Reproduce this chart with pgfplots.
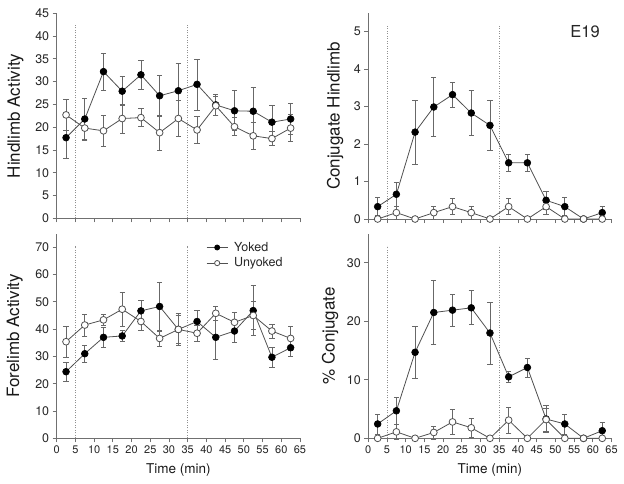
\documentclass[border=0pt]{standalone}
\usepackage{pgfplots}
\pgfplotsset{compat=1.18}
\usepackage{pgfplotstable}
\usepackage{fontspec}
\setmainfont{TeX Gyre Heros}
\definecolor{axgray}{HTML}{707070}
\definecolor{lngray}{HTML}{505050}
\definecolor{errgray}{HTML}{686868}
\definecolor{dotgray}{HTML}{909090}

\pgfplotstableread{
x y e u ue
2.5 17.7 4.6 22.7 3.5
7.5 21.8 4.6 19.8 2.4
12.5 32.2 4.1 19.2 3.3
17.5 27.9 3.2 21.9 3.2
22.5 31.5 3.1 22.1 2.0
27.5 26.9 4.5 18.8 3.9
32.5 28.0 6.0 21.9 4.0
37.5 29.4 5.6 19.4 3.0
42.5 24.9 2.3 24.7 2.0
47.5 23.6 4.4 20.1 2.0
52.5 23.5 5.2 18.1 3.0
57.5 21.1 3.7 17.5 1.5
62.5 21.8 3.4 19.8 3.0
}\hind

\pgfplotstableread{
x y e u ue
2.5 0.33 0.24 0 0
7.5 0.66 0.33 0.17 0.17
12.5 2.32 0.85 0 0
17.5 2.99 0.78 0.17 0.17
22.5 3.32 0.34 0.33 0.21
27.5 2.83 0.60 0.17 0.17
32.5 2.50 0.67 0 0
37.5 1.50 0.23 0.33 0.21
42.5 1.50 0.23 0 0
47.5 0.50 0.23 0.33 0.21
52.5 0.33 0.24 0 0
57.5 0 0 0 0
62.5 0.17 0.17 0 0
}\conjhind

\pgfplotstableread{
x y e u ue
2.5 24.4 3.6 35.4 5.6
7.5 31.0 3.0 41.5 4.0
12.5 37.0 3.6 43.4 2.0
17.5 37.5 2.0 47.3 6.3
22.5 46.7 3.9 42.8 3.3
27.5 48.3 9.0 36.6 3.0
32.5 39.9 5.0 39.9 5.8
37.5 42.8 3.9 38.5 3.0
42.5 37.0 8.2 45.8 2.4
47.5 39.3 4.0 42.5 3.5
52.5 46.8 9.2 45.0 5.0
57.5 29.7 3.8 39.3 2.5
62.5 33.2 3.3 36.6 4.3
}\fore

\pgfplotstableread{
x y e u ue
2.5 2.45 1.7 0 0
7.5 4.7 2.3 1.1 1.3
12.5 14.7 4.4 0 0
17.5 21.5 5.5 1.0 1.1
22.5 21.9 2.7 2.8 2.2
27.5 22.3 2.9 1.8 1.6
32.5 18.0 5.3 0 0
37.5 10.5 1.0 3.1 2.2
42.5 12.1 1.6 0 0
47.5 3.3 2.3 3.2 2.0
52.5 2.45 1.7 0 0
57.5 0 0 0 0
62.5 1.3 1.4 0 0
}\pconj

\pgfplotsset{
 panel/.style={
  scale only axis, width=243.3pt, height=205pt,
  xmin=0, xmax=65, xtick={0,5,...,65},
  axis x line*=bottom, axis y line*=left,
  axis line style={axgray, line width=0.8pt, -},
  major tick style={axgray, line width=0.8pt},
  tick align=outside, major tick length=4pt,
  /pgf/number format/assume math mode=true,
  xticklabel style={font=\fontsize{11}{12}\selectfont, text=black!85},
  yticklabel style={font=\fontsize{12.5}{14}\selectfont, text=black!85},
  ylabel style={font=\fontsize{17}{19}\selectfont, anchor=center, text=black!90},
  xlabel style={font=\fontsize{13.5}{15}\selectfont, anchor=center, text=black!90, at={(axis description cs:0.5,-0.155)}},
  clip=false,
 },
 yok/.style={lngray, line width=0.8pt, mark=*, mark size=3.4pt,
   mark options={fill=black, draw=black, line width=0.6pt},
   error bars/.cd, y dir=both, y explicit,
   error bar style={errgray, line width=0.7pt},
   error mark options={rotate=90, mark size=2.6pt, errgray, line width=0.7pt}},
 unyok/.style={lngray, line width=0.8pt, mark=*, mark size=3.4pt,
   mark options={fill=white, draw=lngray, line width=0.8pt},
   error bars/.cd, y dir=both, y explicit,
   error bar style={errgray, line width=0.7pt},
   error mark options={rotate=90, mark size=2.6pt, errgray, line width=0.7pt}},
 vline/.style={dotgray, dash pattern=on 0.9pt off 1.6pt, line width=0.8pt, forget plot},
}

\begin{document}
\begin{tikzpicture}
\path[use as bounding box] (0,0) rectangle (624pt,483pt);

% Top left
\begin{axis}[panel, at={(56.7pt,264.7pt)}, anchor=south west,
  ymin=0, ymax=45, ytick={0,5,...,45}, xticklabels={},
  ylabel={Hindlimb Activity},
  ylabel style={at={(axis description cs:-0.169,0.5)}}]
\addplot[vline] coordinates {(5,0) (5,42.4)};
\addplot[vline] coordinates {(35,0) (35,42.4)};
\addplot[yok] table[x=x, y=y, y error=e] {\hind};
\addplot[unyok] table[x=x, y=u, y error=ue] {\hind};
\end{axis}

% Top right
\begin{axis}[panel, at={(368.3pt,264pt)}, anchor=south west, height=206pt,
  ymin=0, ymax=5.5, ytick={0,1,...,5}, xticklabels={},
  ylabel={Conjugate Hindlimb},
  ylabel style={at={(axis description cs:-0.136,0.5)}}]
\addplot[vline] coordinates {(5,0) (5,5.16)};
\addplot[vline] coordinates {(35,0) (35,5.16)};
\addplot[yok] table[x=x, y=y, y error=e] {\conjhind};
\addplot[unyok] table[x=x, y=u, y error=ue] {\conjhind};
\node[font=\fontsize{16.5}{18}\selectfont, text=black!85] at (rel axis cs:0.891,0.908) {E19};
\end{axis}

% Bottom left
\begin{axis}[panel, at={(56.7pt,44.7pt)}, anchor=south west, height=204.7pt,
  ymin=0, ymax=75, ytick={0,10,...,70},
  ylabel={Forelimb Activity}, xlabel={Time (min)},
  ylabel style={at={(axis description cs:-0.172,0.5)}},
  legend style={at={(axis description cs:0.614,0.964)}, anchor=north west,
    draw=none, fill=none, font=\fontsize{12.5}{14}\selectfont,
    inner sep=0pt, row sep=3pt, nodes={inner sep=1pt, text=black!85}},
  legend cell align=left,
  legend image code/.code={\draw[mark repeat=2, mark phase=2, mark size=2.6pt] plot coordinates {(0pt,0pt) (10.5pt,0pt) (21pt,0pt)}; \path (26pt,0pt);}]
\addplot[vline] coordinates {(5,0) (5,70.6)};
\addplot[vline] coordinates {(35,0) (35,70.6)};
\addplot[yok] table[x=x, y=y, y error=e] {\fore};
\addlegendentry{Yoked}
\addplot[unyok] table[x=x, y=u, y error=ue] {\fore};
\addlegendentry{Unyoked}
\end{axis}

% Bottom right
\begin{axis}[panel, at={(368.3pt,44.7pt)}, anchor=south west, height=204.8pt,
  ymin=0, ymax=35, ytick={0,10,20,30},
  ylabel={\% Conjugate}, xlabel={Time (min)},
  ylabel style={at={(axis description cs:-0.157,0.5)}}]
\addplot[vline] coordinates {(5,0) (5,32.9)};
\addplot[vline] coordinates {(35,0) (35,32.9)};
\addplot[yok] table[x=x, y=y, y error=e] {\pconj};
\addplot[unyok] table[x=x, y=u, y error=ue] {\pconj};
\end{axis}
\end{tikzpicture}
\end{document}
